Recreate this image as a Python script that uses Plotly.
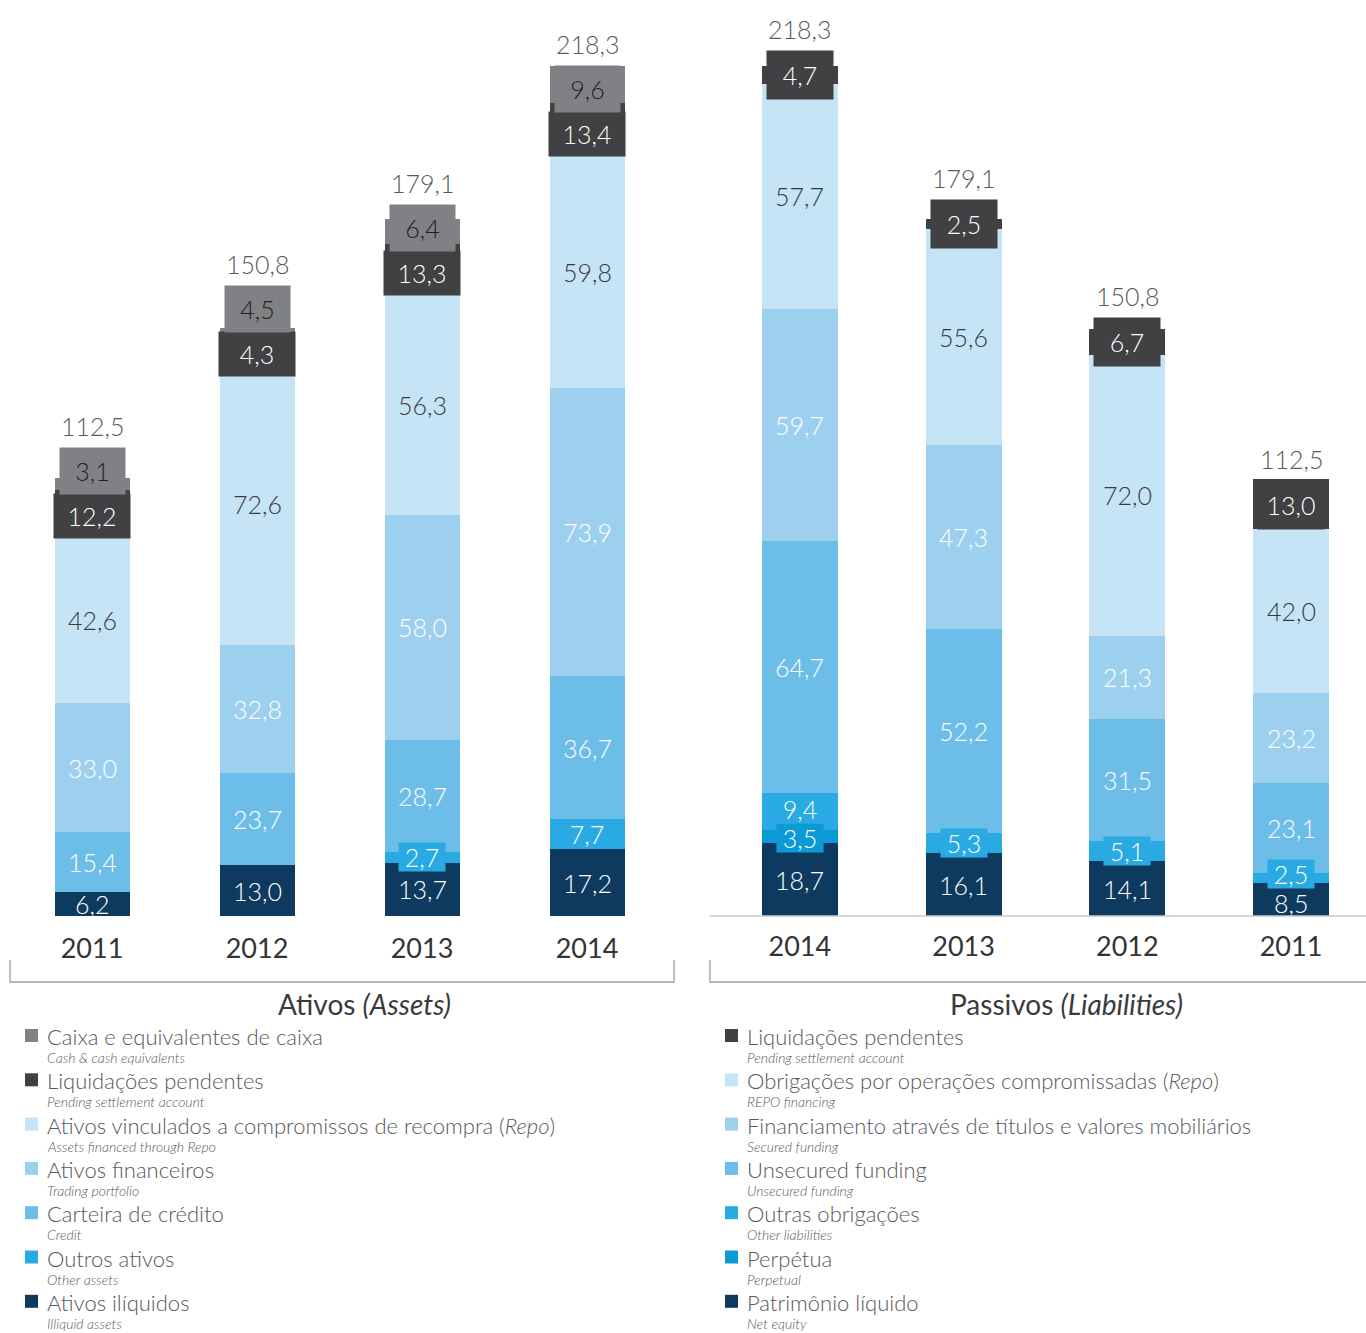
import plotly.graph_objects as go

# ---------------- data ----------------
asset_years = ["2011", "2012", "2013", "2014"]
liab_years = ["2014", "2013", "2012", "2011"]

# assets (bottom -> top)
ativos_iliquidos = [6.2, 13.0, 13.7, 17.2]
outros_ativos = [0.0, 0.0, 2.7, 7.7]
carteira_credito = [15.4, 23.7, 28.7, 36.7]
ativos_financeiros = [33.0, 32.8, 58.0, 73.9]
ativos_repo = [42.6, 72.6, 56.3, 59.8]
liquidacoes_ativo = [12.2, 4.3, 13.3, 13.4]
caixa = [3.1, 4.5, 6.4, 9.6]
asset_totals = [112.5, 150.8, 179.1, 218.3]

# liabilities (bottom -> top), order 2014..2011
patrimonio = [18.7, 16.1, 14.1, 8.5]
perpetua = [3.5, 0.0, 0.0, 0.0]
outras_obrigacoes = [9.4, 5.3, 5.1, 2.5]
unsecured = [64.7, 52.2, 31.5, 23.1]
secured = [59.7, 47.3, 21.3, 23.2]
repo_fin = [57.7, 55.6, 72.0, 42.0]
liquidacoes_passivo = [4.7, 2.5, 6.7, 13.0]
liab_totals = [218.3, 179.1, 150.8, 112.5]

# ---------------- style ----------------
C_GRAY = "#808184"
C_DARK = "#414042"
C_REPO = "#c5e4f5"
C_SEC = "#9dd0ef"
C_UNS = "#6dbde9"
C_OUT = "#2aaae2"
C_PERP = "#0c9ad7"
C_NAVY = "#0f3a5f"
TXT = "#3a3a3c"
FONT = "Lato"

W, H = 1366, 1333
BASE_PX = 916          # pixel row of the zero line
PPU = 3.894            # pixels per data unit
YMAX = BASE_PX / PPU
YDOM0 = (H - BASE_PX) / H

asset_pos = list(range(len(asset_years)))
liab_pos = list(range(len(liab_years)))


def fmt(v):
    return f"{v:.1f}".replace(".", ",")


def px2d(px):
    return (BASE_PX - px) / PPU


fig = go.Figure()

asset_series = [
    ("Ativos ilíquidos", ativos_iliquidos, C_NAVY, "white"),
    ("Outros ativos", outros_ativos, C_OUT, "white"),
    ("Carteira de crédito", carteira_credito, C_UNS, "white"),
    ("Ativos financeiros", ativos_financeiros, C_SEC, "white"),
    ("Repo", ativos_repo, C_REPO, TXT),
    ("Liquidações pendentes", liquidacoes_ativo, C_DARK, "white"),
    ("Caixa", caixa, C_GRAY, "#231f20"),
]
liab_series = [
    ("Patrimônio líquido", patrimonio, C_NAVY, "white"),
    ("Perpétua", perpetua, C_PERP, "white"),
    ("Outras obrigações", outras_obrigacoes, C_OUT, "white"),
    ("Unsecured funding", unsecured, C_UNS, "white"),
    ("Secured funding", secured, C_SEC, "white"),
    ("Repo financing", repo_fin, C_REPO, TXT),
    ("Liquidações pendentes", liquidacoes_passivo, C_DARK, "white"),
]

for name, vals, col, _ in asset_series:
    fig.add_trace(go.Bar(x=asset_pos, y=vals, name=name, marker_color=col,
                         marker_line_width=0, width=0.455, xaxis="x", yaxis="y",
                         showlegend=False, hoverinfo="skip"))
for name, vals, col, _ in liab_series:
    fig.add_trace(go.Bar(x=liab_pos, y=vals, name=name, marker_color=col,
                         marker_line_width=0, width=0.465, xaxis="x2", yaxis="y",
                         showlegend=False, hoverinfo="skip"))

ann = []
VAL_SIZE = 25
TEXT_H = 28


def value_ann(xref, x, ypx, text, color, bg=None, w=None, h=TEXT_H):
    d = dict(xref=xref, yref="y", x=x, y=px2d(ypx), text=text, showarrow=False,
             font=dict(family=FONT, size=VAL_SIZE, color=color, weight=300),
             xanchor="center", yanchor="middle", height=h, valign="middle", borderpad=0)
    if bg:
        d.update(bgcolor=bg)
    if w:
        d.update(width=w)
    ann.append(d)


def place_panel(positions, series, totals, xref, small_idx, top_cfg):
    for i, xp in enumerate(positions):
        cum = 0.0
        seg_px = []
        for name, vals, col, tcol in series:
            v = vals[i]
            b = BASE_PX - cum * PPU
            t = BASE_PX - (cum + v) * PPU
            seg_px.append((b, t))
            cum += v
        n_top = len(top_cfg)
        # regular labels, bottom -> top: [centre_px, height, kwargs]
        labels = []
        for k, (name, vals, col, tcol) in enumerate(series[:len(series) - n_top]):
            v = vals[i]
            if v <= 0:
                continue
            b, t = seg_px[k]
            c = (b + t) / 2
            if k in small_idx:
                labels.append([c, 28, dict(text=fmt(v), color=tcol, bg=col, w=46, h=28)])
            else:
                labels.append([c, TEXT_H, dict(text=fmt(v), color=tcol)])
        # push apart overlapping neighbours
        for _ in range(3):
            for a in range(len(labels) - 1):
                lo, up = labels[a], labels[a + 1]
                need = (lo[1] + up[1]) / 2 + 1
                gap = lo[0] - up[0]
                if gap < need:
                    d = (need - gap) / 2
                    lo[0] += d
                    up[0] -= d
        for c, h, kw in labels:
            value_ann(xref, xp, c, kw["text"], kw["color"], bg=kw.get("bg"), w=kw.get("w"),
                      h=kw.get("h", TEXT_H))
        # top boxes (stacked label boxes)
        k0 = len(series) - n_top
        b, t = seg_px[k0]
        c = (b + t) / 2
        bh, bw = top_cfg[0]
        box_bottom = max(b, c + bh / 2)
        centre = box_bottom - bh / 2
        name, vals, col, tcol = series[k0]
        value_ann(xref, xp, centre, fmt(vals[i]), tcol, bg=col, w=bw, h=bh)
        top_px = centre - bh / 2
        for j in range(1, n_top):
            bh2, bw2 = top_cfg[j]
            name, vals, col, tcol = series[k0 + j]
            centre = top_px - bh2 / 2
            value_ann(xref, xp, centre, fmt(vals[i]), tcol, bg=col, w=bw2, h=bh2)
            top_px = centre - bh2 / 2
        ann.append(dict(xref=xref, yref="y", x=xp, y=px2d(top_px - 22), text=fmt(totals[i]),
                        showarrow=False, xanchor="center", yanchor="middle",
                        font=dict(family=FONT, size=VAL_SIZE, color="#58595b", weight=300)))


place_panel(asset_pos, asset_series, asset_totals, "x", small_idx={1},
            top_cfg=[(44, 76), (46, 65)])
place_panel(liab_pos, liab_series, liab_totals, "x2", small_idx={1, 2},
            top_cfg=[(48, 66)])

# ---------------- frame elements ----------------
shapes = []
line_c = "#9d9fa2"


def py(px):
    return (H - px) / H


shapes.append(dict(type="line", xref="paper", yref="paper", x0=710 / W, x1=1,
                   y0=py(BASE_PX), y1=py(BASE_PX), line=dict(color="#c8c8c8", width=1.5)))
shapes.append(dict(type="path", xref="paper", yref="paper",
                   path=f"M {10 / W},{py(960)} L {10 / W},{py(982)} L {674 / W},{py(982)} L {674 / W},{py(960)}",
                   line=dict(color=line_c, width=1.3)))
shapes.append(dict(type="path", xref="paper", yref="paper",
                   path=f"M {710 / W},{py(960)} L {710 / W},{py(982)} L 1,{py(982)}",
                   line=dict(color=line_c, width=1.3)))

ann.append(dict(xref="paper", yref="paper", x=364 / W, y=py(1004), text="Ativos <i>(Assets)</i>",
                showarrow=False, xanchor="center", yanchor="middle",
                font=dict(family=FONT, size=28, color=TXT)))
ann.append(dict(xref="paper", yref="paper", x=1066 / W, y=py(1004), text="Passivos <i>(Liabilities)</i>",
                showarrow=False, xanchor="center", yanchor="middle",
                font=dict(family=FONT, size=28, color=TXT)))

# ---------------- custom legend ----------------
legend_left = [
    ("Caixa e equivalentes de caixa", "Cash &amp; cash equivalents", C_GRAY),
    ("Liquidações pendentes", "Pending settlement account", C_DARK),
    ("Ativos vinculados a compromissos de recompra (<i>Repo</i>)", "Assets financed through Repo", C_REPO),
    ("Ativos financeiros", "Trading portfolio", C_SEC),
    ("Carteira de crédito", "Credit", C_UNS),
    ("Outros ativos", "Other assets", C_OUT),
    ("Ativos ilíquidos", "Illiquid assets", C_NAVY),
]
legend_right = [
    ("Liquidações pendentes", "Pending settlement account", C_DARK),
    ("Obrigações por operações compromissadas (<i>Repo</i>)", "REPO financing", C_REPO),
    ("Financiamento através de títulos e valores mobiliários", "Secured funding", C_SEC),
    ("Unsecured funding", "Unsecured funding", C_UNS),
    ("Outras obrigações", "Other liabilities", C_OUT),
    ("Perpétua", "Perpetual", C_PERP),
    ("Patrimônio líquido", "Net equity", C_NAVY),
]
LEG_TXT = "#58595b"
for items, x_sq, x_txt in ((legend_left, 25, 45), (legend_right, 725, 745)):
    for i, (main, sub, col) in enumerate(items):
        yc = 1035.5 + i * 44.3
        shapes.append(dict(type="rect", xref="paper", yref="paper",
                           x0=x_sq / W, x1=(x_sq + 13) / W, y0=py(yc + 6.5), y1=py(yc - 6.5),
                           fillcolor=col, line=dict(width=0)))
        ann.append(dict(xref="paper", yref="paper", x=x_txt / W, y=py(yc + 1), text=main,
                        showarrow=False, xanchor="left", yanchor="middle",
                        font=dict(family=FONT, size=22, color=LEG_TXT, weight=300)))
        ann.append(dict(xref="paper", yref="paper", x=x_txt / W, y=py(yc + 22), text=f"<i>{sub}</i>",
                        showarrow=False, xanchor="left", yanchor="middle",
                        font=dict(family=FONT, size=14, color=LEG_TXT, weight=300)))

axis_common = dict(showgrid=False, zeroline=False, showline=False, ticks="", anchor="y",
                   tickfont=dict(family=FONT, size=27, color="#333333"), fixedrange=True)
fig.update_layout(
    width=W, height=H, margin=dict(l=0, r=0, t=0, b=0),
    paper_bgcolor="white", plot_bgcolor="white",
    barmode="stack", bargap=0,
    xaxis=dict(domain=[9.5 / W, 669.5 / W], range=[-0.5, 3.5], type="linear",
               tickmode="array", tickvals=asset_pos, ticktext=asset_years,
               ticklabelstandoff=14, **axis_common),
    xaxis2=dict(domain=[718 / W, 1], range=[-0.5, 3.458], type="linear",
                tickmode="array", tickvals=liab_pos, ticktext=liab_years,
                ticklabelstandoff=12, **axis_common),
    yaxis=dict(domain=[YDOM0, 1], range=[0, YMAX], visible=False, fixedrange=True),
    annotations=ann, shapes=shapes,
)

fig.write_html("out.html")
